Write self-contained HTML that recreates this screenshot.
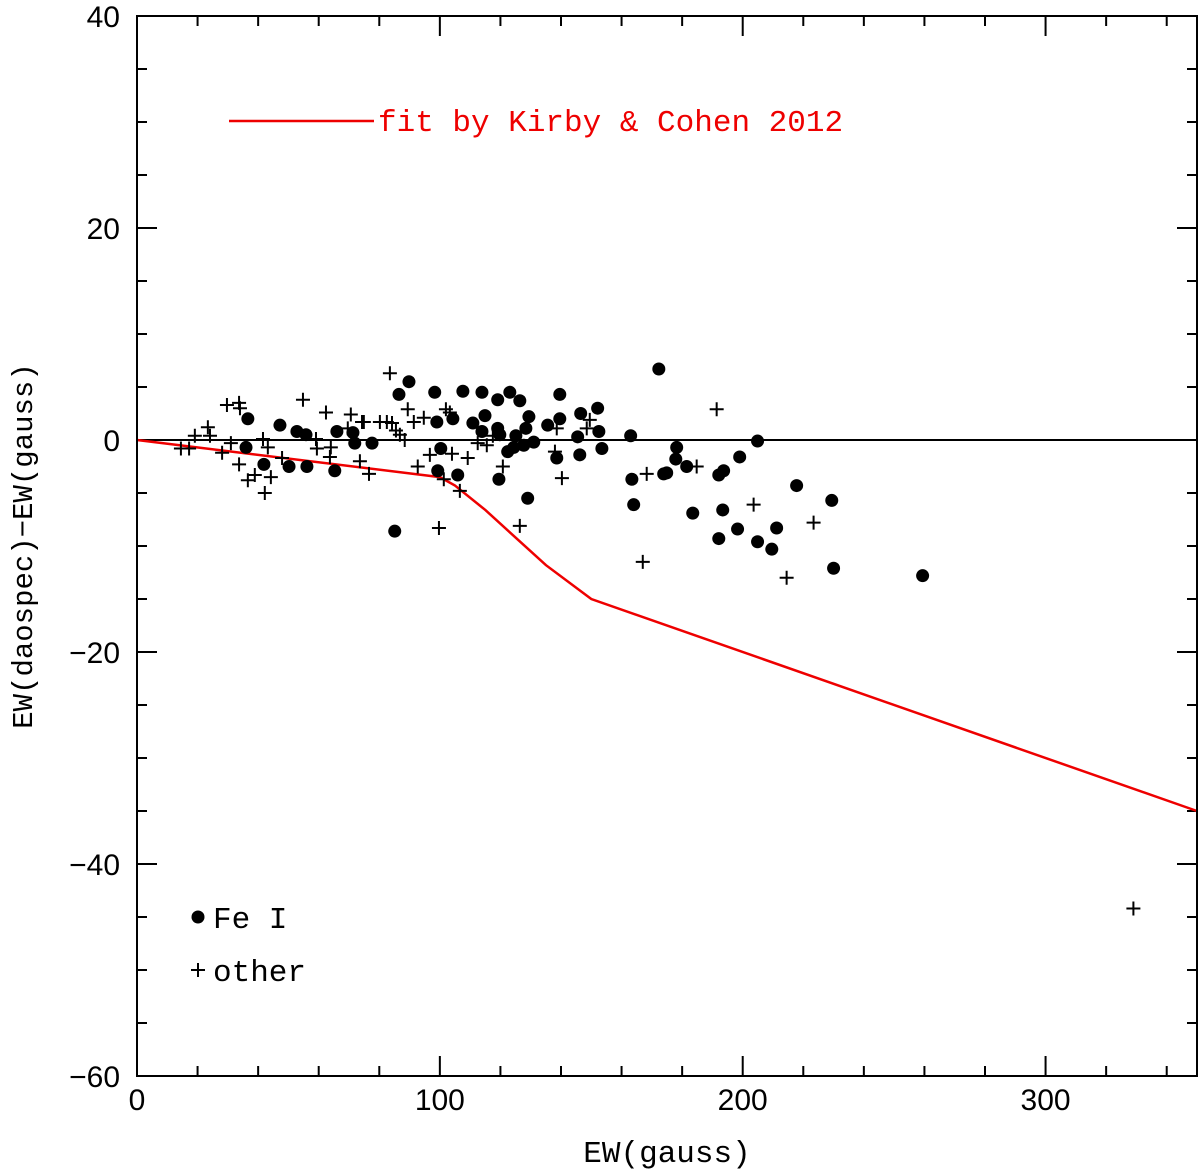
<!DOCTYPE html>
<html><head><meta charset="utf-8"><style>
html,body{margin:0;padding:0;background:#fff}
svg{display:block}
text{font-family:"Liberation Sans",sans-serif}
</style></head><body>
<svg id="chart" width="1200" height="1172" viewBox="0 0 1200 1172">
<g id="ticks"></g>
<line x1="137" y1="440" x2="1197" y2="440" stroke="#000" stroke-width="2"/>
<polyline id="fit" fill="none" stroke="#e00" stroke-width="2.5"/>
<g id="marks"></g>
<rect x="137" y="16" width="1060" height="1060" fill="none" stroke="#000" stroke-width="2"/>
<g id="labels" font-size="30"></g>
<text x="667" y="1162" font-size="31" text-anchor="middle" style="font-family:'Liberation Mono',monospace">EW(gauss)</text>
<text transform="translate(32,546) rotate(-90)" font-size="29" text-anchor="middle" style="font-family:'Liberation Mono',monospace">EW(daospec)−EW(gauss)</text>
<g>
<line x1="229" y1="121" x2="374" y2="121" stroke="#e00" stroke-width="2.5"/>
<text x="378" y="131" font-size="31" fill="#e00" style="font-family:'Liberation Mono',monospace">fit by Kirby &amp; Cohen 2012</text>
</g>
<g>
<circle cx="198" cy="917" r="6.5" fill="#000"/>
<text x="213" y="928" font-size="31" style="font-family:'Liberation Mono',monospace">Fe I</text>
</g>
<g>
<path d="M191 970h14M198 963v14" stroke="#000" stroke-width="2"/>
<text x="213" y="981" font-size="31" style="font-family:'Liberation Mono',monospace">other</text>
</g>
</svg>
<script>
const xTicks=[0,100,200,300];
const yTicks=[40,20,0,-20,-40,-60];
const feX=[36.6,47.2,52.8,55.8,66.0,71.3,71.9,77.6,36.0,41.9,50.2,56.1,65.3,85.1,86.5,89.8,98.3,99.0,104.3,100.3,99.3,105.9,107.6,113.9,123.1,119.1,126.4,139.6,110.9,114.9,113.9,119.1,119.8,129.4,128.4,135.6,139.6,146.5,152.1,152.5,145.5,125.1,131.0,127.7,124.4,122.4,153.5,146.2,138.6,119.5,129.0,172.3,163.0,163.4,164.0,178.2,177.9,181.5,173.9,174.9,183.5,192.1,193.7,193.4,198.3,192.1,204.9,209.6,211.2,199.0,204.9,217.8,229.4,230.0,259.4];
const feY=[2.0,1.4,0.8,0.5,0.8,0.7,-0.3,-0.3,-0.7,-2.3,-2.5,-2.5,-2.9,-8.6,4.3,5.5,4.5,1.7,2.0,-0.8,-2.9,-3.3,4.6,4.5,4.5,3.8,3.7,4.3,1.6,2.3,0.8,1.1,0.5,2.2,1.1,1.4,2.0,2.5,3.0,0.8,0.3,0.4,-0.2,-0.5,-0.7,-1.1,-0.8,-1.4,-1.7,-3.7,-5.5,6.7,0.4,-3.7,-6.1,-0.7,-1.8,-2.5,-3.2,-3.1,-6.9,-3.3,-2.9,-6.6,-8.4,-9.3,-9.6,-10.3,-8.3,-1.6,-0.1,-4.3,-5.7,-12.1,-12.8];
const otX=[83.5,29.7,33.7,34.0,54.8,62.4,23.4,24.1,19.1,14.5,17.2,28.1,31.0,33.7,36.6,38.9,44.2,42.2,41.6,43.2,47.9,59.4,59.1,64.0,63.7,70.6,69.6,74.3,74.9,73.6,76.6,80.2,82.5,84.2,85.5,86.8,88.4,89.4,91.4,94.7,102.0,103.3,96.7,92.7,104.0,109.2,101.3,106.6,99.7,120.8,126.4,112.5,115.5,117.5,138.6,138.0,140.3,149.5,148.5,191.4,168.3,184.8,203.6,223.4,167.0,214.5,329.0];
const otY=[6.3,3.3,3.5,3.0,3.8,2.6,1.2,0.4,0.4,-0.8,-0.8,-1.2,-0.3,-2.3,-3.8,-3.3,-3.5,-5.0,0.1,-0.7,-1.7,-0.8,0.1,-0.7,-1.6,2.4,1.1,1.7,1.7,-2.0,-3.2,1.7,1.7,1.6,0.9,0.5,0.0,2.9,1.7,2.1,2.9,2.6,-1.4,-2.5,-1.3,-1.7,-3.7,-4.8,-8.3,-2.5,-8.1,-0.3,-0.5,0.4,1.1,-1.1,-3.6,1.9,1.1,2.9,-3.2,-2.5,-6.1,-7.8,-11.5,-13.0,-44.2];
const fitX=[0,100,105,115,125,135,150,350];
const fitY=[0,-3.5,-4.3,-6.6,-9.2,-11.8,-15,-35];

const NS='http://www.w3.org/2000/svg';
const sx=v=>137+v*(1060/350);
const sy=v=>440-(v)*10.6;
function mk(tag,attrs,parent){const e=document.createElementNS(NS,tag);for(const k in attrs)e.setAttribute(k,attrs[k]);parent.appendChild(e);return e;}
const tg=document.getElementById('ticks'),lg=document.getElementById('labels'),mg=document.getElementById('marks');
let d='';
for(let v=0;v<=350;v+=20){const x=sx(v);const L=(v%100===0)?20:10;d+=`M${x} 1076v${-L}M${x} 16v${L}`;}
for(let v=-60;v<=40;v+=5){const y=sy(v);const L=(v%20===0)?20:10;d+=`M137 ${y}h${L}M1197 ${y}h${-L}`;}
const tp=mk('path',{d:d,stroke:'#000','stroke-width':2,fill:'none'},tg);


xTicks.forEach(v=>{const t=mk('text',{x:sx(v),y:1110,'text-anchor':'middle'},lg);t.textContent=v;

});
yTicks.forEach(v=>{const t=mk('text',{x:120,y:sy(v)+11,'text-anchor':'end'},lg);t.textContent=v<0?'−'+(-v):v;

});
document.getElementById('fit').setAttribute('points',fitX.map((v,i)=>sx(v)+','+sy(fitY[i])).join(' '));
feX.forEach((v,i)=>{const c=mk('circle',{cx:sx(v),cy:sy(feY[i]),r:6.5,fill:'#000'},mg);

});
otX.forEach((v,i)=>{const x=sx(v),y=sy(otY[i]);const p=mk('path',{d:`M${x-7} ${y}h14M${x} ${y-7}v14`,stroke:'#000','stroke-width':2},mg);

});
</script>
</body></html>
